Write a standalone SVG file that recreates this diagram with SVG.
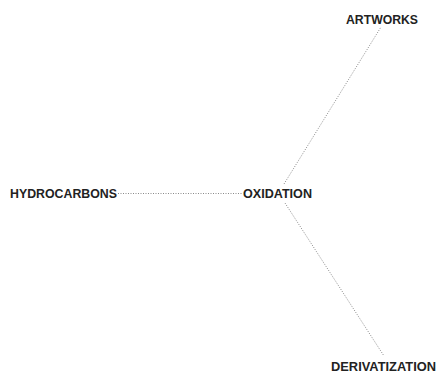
<svg xmlns="http://www.w3.org/2000/svg" width="438" height="374" viewBox="0 0 438 374">
  <style>
    .bg { fill: #ffffff; }
    .label { font-family: "Liberation Sans", Arial, sans-serif; font-size: 12.5px; font-weight: bold; fill: #222222; }
    .edge { stroke: #8a8a8a; stroke-width: 1; stroke-dasharray: 1 1.5; fill: none; }
  </style>
  <rect class="bg" x="0" y="0" width="438" height="374"/>
  <g id="connectors">
    <line class="edge" x1="118" y1="193.5" x2="242" y2="193.5"/>
    <line class="edge" x1="284" y1="184" x2="381" y2="27"/>
    <line class="edge" x1="285" y1="203" x2="384" y2="356"/>
  </g>
  <g id="node-hydrocarbons">
    <text class="label" x="10" y="198" textLength="107" lengthAdjust="spacingAndGlyphs">HYDROCARBONS</text>
  </g>
  <g id="node-oxidation">
    <text class="label" x="243" y="198" textLength="69" lengthAdjust="spacingAndGlyphs">OXIDATION</text>
  </g>
  <g id="node-artworks">
    <text class="label" x="346" y="24" textLength="72" lengthAdjust="spacingAndGlyphs">ARTWORKS</text>
  </g>
  <g id="node-derivatization">
    <text class="label" x="331" y="371" textLength="105" lengthAdjust="spacingAndGlyphs">DERIVATIZATION</text>
  </g>
</svg>
